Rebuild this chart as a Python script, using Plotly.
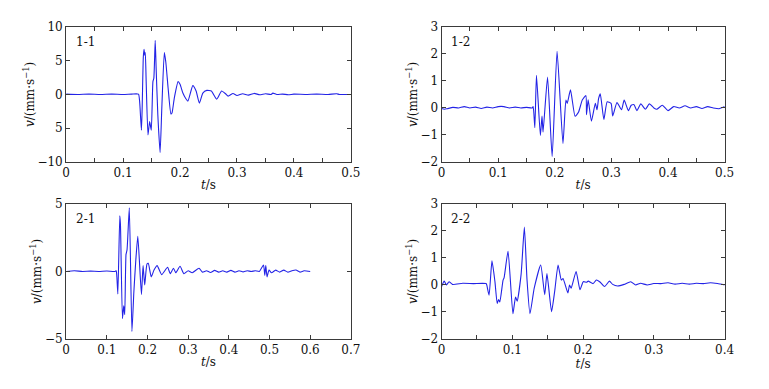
import plotly.graph_objects as go

# ---------------- data ----------------
t11 = [0, 0.02, 0.04, 0.06, 0.08, 0.1, 0.115, 0.127, 0.129, 0.1322, 0.1335, 0.1355, 0.1368, 0.138, 0.139,
       0.1405, 0.1437, 0.1466, 0.1495, 0.1524, 0.154, 0.1564, 0.158, 0.161, 0.165, 0.168, 0.1724, 0.175,
       0.179, 0.184, 0.186, 0.19, 0.1966, 0.2, 0.205, 0.21, 0.2138, 0.2224, 0.2282, 0.234, 0.24, 0.247,
       0.255, 0.2645, 0.273, 0.28, 0.2845, 0.293, 0.3, 0.31, 0.32, 0.33, 0.34, 0.35, 0.36, 0.363, 0.37,
       0.38, 0.39, 0.4, 0.42, 0.44, 0.46, 0.475, 0.48, 0.5]
v11 = [0.05, 0.0, 0.05, 0.0, 0.05, 0.0, 0.05, 0.05, -1.0, -5.3, -2.0, 5.5, 6.7, 5.8, 6.2,
       2.0, -6.0, -4.0, -5.3, 1.9, 2.4, 8.0, 4.0, -3.0, -8.6, -2.0, 6.2, 4.8,
       1.0, -2.9, -2.7, -0.5, 1.9, 1.5, 0.2, -0.6, -1.0, 1.3, 0.5, -1.3, 0.2, 0.6,
       0.5, -0.7, 0.5, 0.1, -0.25, 0.15, -0.15, 0.1, -0.1, 0.15, -0.05, 0.1, 0.0, 0.2, 0.0,
       0.05, -0.05, 0.05, 0.0, 0.05, 0.0, 0.1, 0.0, 0.0]

t12 = [0, 0.005, 0.01, 0.02, 0.03, 0.04, 0.05, 0.06, 0.07, 0.08, 0.09, 0.1, 0.11, 0.12, 0.13, 0.14,
       0.15, 0.16, 0.1618, 0.1647, 0.1676, 0.1745, 0.1774, 0.1792, 0.1872, 0.1953, 0.204, 0.2144,
       0.2196, 0.2219, 0.2277, 0.2358, 0.242, 0.2485, 0.2549, 0.256, 0.2589, 0.2647, 0.2716, 0.2745,
       0.2774, 0.2803, 0.2867, 0.2925, 0.2994, 0.3023, 0.3098, 0.3179, 0.3225, 0.33, 0.335, 0.34,
       0.345, 0.352, 0.36, 0.367, 0.375, 0.38, 0.39, 0.4, 0.41, 0.42, 0.43, 0.44, 0.45, 0.46, 0.47,
       0.48, 0.49, 0.5]
v12 = [-0.02, -0.05, -0.03, 0.02, 0.0, 0.05, 0.0, 0.03, -0.02, 0.03, 0.0, 0.05, 0.05, 0.0, 0.03, 0.0,
       0.02, 0.0, 0.05, -0.73, 1.21, -1.02, -0.3, -0.9, 1.14, -1.8, 2.1, -1.32,
       0.29, 0.17, 0.67, -0.31, -0.15, 0.29, 0.46, -0.25, 0.3, -0.49, 0.17, -0.07,
       0.35, 0.52, -0.43, 0.23, 0.17, -0.3, 0.2, -0.07, 0.29, -0.1, 0.1, 0.12,
       -0.1, 0.15, -0.05, 0.15, 0.0, -0.05, 0.1, -0.1, 0.05, 0.0, 0.08, 0.0, 0.05, -0.02, 0.05,
       0.0, -0.03, 0.05]

t21 = [0, 0.02, 0.04, 0.06, 0.08, 0.1, 0.12, 0.1231, 0.1247, 0.1271, 0.1319, 0.1335, 0.1384, 0.1416,
       0.144, 0.1472, 0.1497, 0.1553, 0.1617, 0.1665, 0.1714, 0.1762, 0.1851, 0.1891, 0.1931, 0.1987,
       0.2019, 0.2092, 0.216, 0.2237, 0.2349, 0.2494, 0.2559, 0.2639, 0.2695, 0.28, 0.2896, 0.3, 0.31,
       0.3267, 0.335, 0.345, 0.355, 0.365, 0.375, 0.385, 0.395, 0.405, 0.415, 0.425, 0.435, 0.445,
       0.455, 0.465, 0.475, 0.4852, 0.4884, 0.4908, 0.494, 0.4988, 0.505, 0.515, 0.525, 0.535, 0.545,
       0.555, 0.565, 0.575, 0.585, 0.6]
v21 = [0.0, 0.05, 0.0, 0.02, 0.0, 0.03, 0.0, 0.05, -0.4, -1.67, 4.12, 3.5, -3.5, -2.55,
       -3.2, 1.26, 1.6, 4.71, -4.45, -1.5, 0.9, 2.6, -1.71, 0.43, -1.0, 0.55,
       0.6, -0.4, 0.1, 0.43, -0.24, 0.31, -0.17, 0.24, -0.1, 0.38, -0.17, 0.05, -0.1,
       0.24, -0.05, 0.05, -0.08, 0.08, -0.05, 0.05, -0.05, 0.08, -0.05, 0.05, -0.03, 0.05,
       0.0, 0.05, 0.0, 0.48, -0.29, 0.43, -0.4, 0.1, -0.1, 0.1, -0.05, 0.1, -0.05,
       0.05, 0.1, -0.05, 0.05, 0.0]

t22 = [0, 0.0037, 0.0069, 0.0106, 0.0153, 0.03, 0.045, 0.0629, 0.0638, 0.0671, 0.0712, 0.0754, 0.0786,
       0.0805, 0.0823, 0.0869, 0.0883, 0.0939, 0.1008, 0.1045, 0.1068, 0.1124, 0.117, 0.1207, 0.1249,
       0.1309, 0.1401, 0.1457, 0.1489, 0.1554, 0.16, 0.1646, 0.1692, 0.1716, 0.1785, 0.1808, 0.1831,
       0.1901, 0.1956, 0.2002, 0.2049, 0.2072, 0.2141, 0.2187, 0.2234, 0.2303, 0.2372, 0.2418, 0.2488,
       0.258, 0.2673, 0.2742, 0.2812, 0.2904, 0.2997, 0.31, 0.32, 0.33, 0.34, 0.35, 0.36, 0.37, 0.38,
       0.39, 0.4]
v22 = [-0.06, 0.14, 0.0, 0.12, 0.02, 0.06, 0.05, 0.05, 0.0, -0.38, 0.89, 0.12, -0.69,
       -0.54, -0.63, 0.18, 0.26, 1.25, -1.07, -0.45, -0.6, 0.4, 2.14, 0.2, -1.07,
       -0.12, 0.74, -0.36, 0.42, -0.99, -0.2, 0.74, 0.18, 0.24, -0.3, 0.0, -0.12,
       0.5, -0.18, 0.12, 0.1, 0.14, 0.05, 0.18, 0.12, -0.06, 0.14, 0.02, -0.04,
       0.02, 0.12, 0.0, 0.06, 0.0, 0.05, 0.05, 0.08, 0.03, 0.06, 0.03, 0.06, 0.05, 0.08,
       0.05, 0.0]

panel_names = ["1-1", "1-2", "2-1", "2-2"]

x_tickvals_05 = [0, 0.1, 0.2, 0.3, 0.4, 0.5]
x_ticktext_05 = ["0", "0.1", "0.2", "0.3", "0.4", "0.5"]
x_tickvals_07 = [0, 0.1, 0.2, 0.3, 0.4, 0.5, 0.6, 0.7]
x_ticktext_07 = ["0", "0.1", "0.2", "0.3", "0.4", "0.5", "0.6", "0.7"]
x_tickvals_04 = [0, 0.1, 0.2, 0.3, 0.4]
x_ticktext_04 = ["0", "0.1", "0.2", "0.3", "0.4"]

y_tickvals_11 = [10, 5, 0, -5, -10]
y_ticktext_11 = ["10", "5", "0", "5", "\u221210"]
y_tickvals_3 = [3, 2, 1, 0, -1, -2]
y_ticktext_3 = ["3", "2", "1", "0", "\u22121", "\u22122"]
y_tickvals_21 = [5, 0, -5]
y_ticktext_21 = ["5", "0", "\u22125"]

# ---------------- figure ----------------
W, H = 769, 389
FONT = "DejaVu Serif"
LINE = "rgb(35,35,230)"
AX = "#3a3a3a"

def px_x(a, b):
    return [a / W, b / W]

def px_y(top, bottom):
    return [1 - bottom / H, 1 - top / H]

panels = [
    dict(t=t11, v=v11, xd=px_x(63.3, 353.3), yd=px_y(20.7, 160.7), xr=[0, 0.5], yr=[-10, 10],
         xtv=x_tickvals_05, xtt=x_ticktext_05, ytv=y_tickvals_11, ytt=y_ticktext_11, minor=0.05),
    dict(t=t12, v=v12, xd=px_x(445.7, 734), yd=px_y(20.7, 160.7), xr=[0, 0.5], yr=[-2, 3],
         xtv=x_tickvals_05, xtt=x_ticktext_05, ytv=y_tickvals_3, ytt=y_ticktext_3, minor=0.05),
    dict(t=t21, v=v21, xd=px_x(63.3, 353.3), yd=px_y(204.3, 344.3), xr=[0, 0.7], yr=[-5, 5],
         xtv=x_tickvals_07, xtt=x_ticktext_07, ytv=y_tickvals_21, ytt=y_ticktext_21, minor=None),
    dict(t=t22, v=v22, xd=px_x(445.7, 734), yd=px_y(204.3, 344.3), xr=[0, 0.4], yr=[-2, 3],
         xtv=x_tickvals_04, xtt=x_ticktext_04, ytv=y_tickvals_3, ytt=y_ticktext_3, minor=0.05),
]

fig = go.Figure()
layout = {}
annotations = []
tfont = dict(family=FONT, size=12, color="#111")
for i, p in enumerate(panels):
    n = "" if i == 0 else str(i + 1)
    fig.add_trace(go.Scatter(x=p["t"], y=p["v"], mode="lines",
                             line=dict(color=LINE, width=1.1, shape="spline", smoothing=0.5),
                             xaxis="x" + n, yaxis="y" + n, showlegend=False,
                             hoverinfo="skip"))
    common = dict(showline=True, linecolor=AX, linewidth=1, mirror="ticks",
                  ticks="inside", ticklen=4, tickcolor=AX, showgrid=False, zeroline=False,
                  tickfont=tfont)
    xa = dict(common, domain=p["xd"], range=p["xr"], anchor="y" + n,
              tickmode="array", tickvals=p["xtv"], ticktext=p["xtt"],
              title=dict(text="<i>t</i>/s", standoff=1, font=tfont))
    if p["minor"]:
        xa["minor"] = dict(dtick=p["minor"], tick0=0, ticks="inside", ticklen=4, tickcolor=AX,
                           showgrid=False)
    layout["xaxis" + n] = xa
    layout["yaxis" + n] = dict(common, domain=p["yd"], range=p["yr"], anchor="x" + n,
                               tickmode="array", tickvals=p["ytv"], ticktext=p["ytt"],
                               title=dict(text="<i>v</i>/(mm\u00b7s<sup>\u22121</sup>)", standoff=0,
                                          font=tfont))
    annotations.append(dict(text=panel_names[i], xref="paper", yref="paper",
                            x=(p["xd"][0] * W + 8) / W, y=p["yd"][1] - 6 / H,
                            xanchor="left", yanchor="top", showarrow=False, font=tfont))

fig.update_layout(**layout)
fig.update_layout(width=W, height=H, margin=dict(l=0, r=0, t=0, b=0),
                  paper_bgcolor="white", plot_bgcolor="white",
                  annotations=annotations)

fig.write_html("out.html", config={"displayModeBar": False},
               post_script="document.body.style.margin='0';")
